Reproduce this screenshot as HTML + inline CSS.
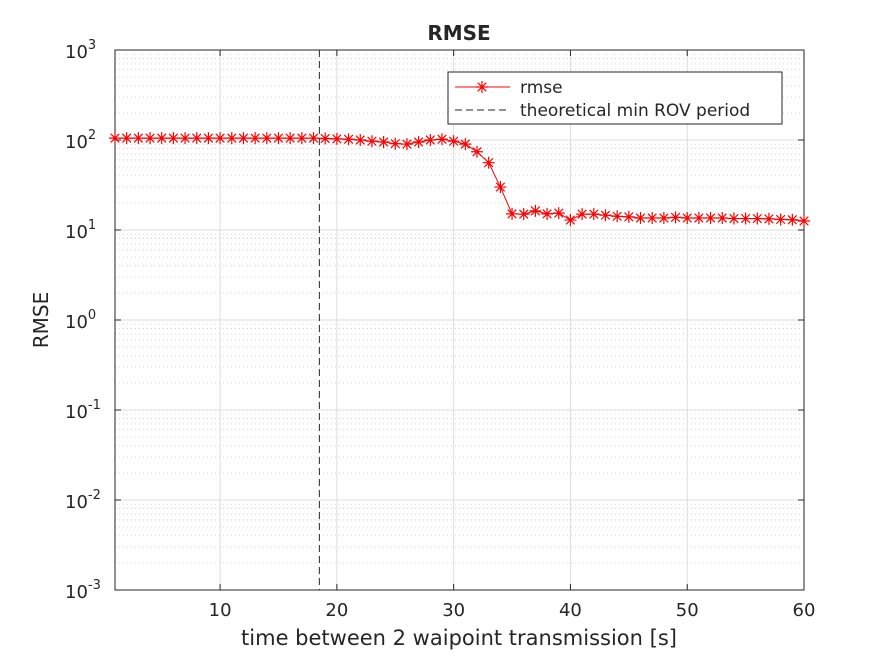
<!DOCTYPE html>
<html><head><meta charset="utf-8"><style>
body{margin:0;background:#fff;}
svg text{font-family:"DejaVu Sans","Liberation Sans",sans-serif;fill:#262626;}
</style></head><body>
<svg id="c" width="887" height="662"></svg>
<script>
const xs=[];for(let i=1;i<=60;i++)xs.push(i);
const rmse=[105,105,105,105,105,105,105,105,105,105,105,105,105,105,105,105,105,105,104,103,102,100,97,95,91,90,95,100,102,97,90,74,56,30,15.1,15,16.3,15.1,15.4,12.9,15,15,14.6,14.2,14,13.6,13.6,13.6,13.8,13.6,13.6,13.6,13.6,13.4,13.4,13.4,13.3,13.1,13,12.6];
const xTicks=[10,20,30,40,50,60];
const yExp=[-3,-2,-1,0,1,2,3];
const vline=18.5;
const L=115,R=804,T=50,B=590;
const X=v=>L+(v-1)/(60-1)*(R-L);
const Y=v=>B-(Math.log10(v)+3)/6*(B-T);
const svg=document.getElementById('c');const NS='http://www.w3.org/2000/svg';
function el(t,a,p){const e=document.createElementNS(NS,t);for(const k in a)e.setAttribute(k,a[k]);(p||svg).appendChild(e);return e;}
el('rect',{x:L,y:T,width:R-L,height:B-T,fill:'#fff'});
const g=el('g',{});


for(const e of yExp){if(e<3)for(let m=2;m<=9;m++){const y=Y(m*Math.pow(10,e));el('line',{x1:L,x2:R,y1:y,y2:y,stroke:'#bbb','stroke-width':0.6,'stroke-dasharray':'1,3'},g);}
 const y=Y(Math.pow(10,e));el('line',{x1:L,x2:R,y1:y,y2:y,stroke:'#dcdcdc','stroke-width':1},g);}
for(const t of xTicks){el('line',{x1:X(t),x2:X(t),y1:T,y2:B,stroke:'#dcdcdc','stroke-width':1},g);}
el('rect',{x:L,y:T,width:R-L,height:B-T,fill:'none',stroke:'#262626','stroke-width':1});
for(const t of xTicks){el('line',{x1:X(t),x2:X(t),y1:B,y2:B-6,stroke:'#262626'});el('line',{x1:X(t),x2:X(t),y1:T,y2:T+6,stroke:'#262626'});
 const tx=el('text',{x:X(t),y:B+26,'text-anchor':'middle','font-size':18});tx.textContent=t;
 
 }
for(const e of yExp){const y=Y(Math.pow(10,e));el('line',{x1:L,x2:L+6,y1:y,y2:y,stroke:'#262626'});el('line',{x1:R,x2:R-6,y1:y,y2:y,stroke:'#262626'});
 const tx=el('text',{x:L-50,y:y+8,'font-size':18});tx.innerHTML='10<tspan dy="-9" font-size="13">'+e+'</tspan>';
 
 }
const vl=el('line',{x1:X(vline),x2:X(vline),y1:T,y2:B,stroke:'#262626','stroke-dasharray':'7,4'});


const pl=el('polyline',{points:xs.map((x,i)=>X(x)+','+Y(rmse[i])).join(' '),fill:'none',stroke:'#f00','stroke-width':1});


function star(cx,cy,p){const r=6;el('path',{d:`M${cx-r},${cy}H${cx+r}M${cx},${cy-r}V${cy+r}M${cx-4.3},${cy-4.3}L${cx+4.3},${cy+4.3}M${cx-4.3},${cy+4.3}L${cx+4.3},${cy-4.3}`,stroke:'#f00','stroke-width':1.2},p);}
xs.forEach((x,i)=>star(X(x),Y(rmse[i])));
const lg=el('g',{});


el('rect',{x:448,y:72,width:334,height:52,fill:'#fff',stroke:'#262626'},lg);
el('line',{x1:455,x2:510,y1:87,y2:87,stroke:'#f00'},lg);star(482,87,lg);
let t=el('text',{x:520,y:93,'font-size':17},lg);t.textContent='rmse';
el('line',{x1:455,x2:510,y1:110,y2:110,stroke:'#262626','stroke-dasharray':'7,4'},lg);
t=el('text',{x:520,y:116,'font-size':17},lg);t.textContent='theoretical min ROV period';
t=el('text',{x:459,y:40,'font-size':20,'font-weight':'bold','text-anchor':'middle'});t.textContent='RMSE';


t=el('text',{x:459,y:645,'font-size':21,'text-anchor':'middle'});t.textContent='time between 2 waipoint transmission [s]';


t=el('text',{x:0,y:0,'font-size':20,'text-anchor':'middle',transform:'translate(48,320) rotate(-90)'});t.textContent='RMSE';


</script>
</body></html>
